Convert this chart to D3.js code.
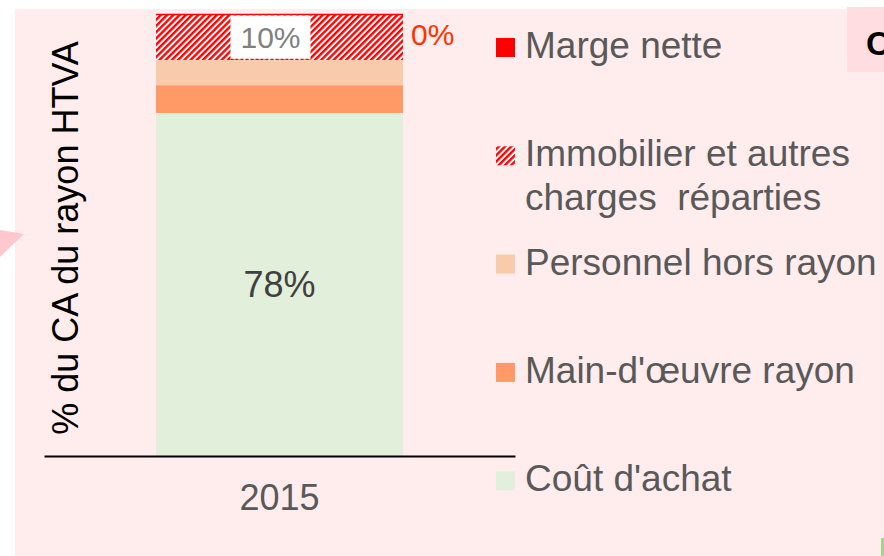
<!DOCTYPE html>
<html>
<head>
<meta charset="utf-8">
<script src="https://cdn.jsdelivr.net/npm/d3@7"></script>
<style>
  html, body { margin: 0; padding: 0; background: #fff; }
  svg { display: block; font-family: "Liberation Sans", Arial, sans-serif; }
</style>
</head>
<body>
<div id="canvas"></div>
<script>
// data
var years = ['2015'];
var seriesNames = ['Coût d\'achat', 'Main-d\'œuvre rayon', 'Personnel hors rayon',
                   'Immobilier et autres charges  réparties', 'Marge nette'];
var seriesValues = [0.776, 0.063, 0.057, 0.104, 0.0];
var seriesColors = ['#E2EFDA', '#FF9966', '#F8CBAD', 'url(#hatch)', '#FF0000'];
var legendLines = [['Coût d\'achat'], ['Main-d\'œuvre rayon'], ['Personnel hors rayon'],
                   ['Immobilier et autres', 'charges  réparties'], ['Marge nette']];
var yTitle = '% du CA du rayon HTVA';

var W = 884, H = 556;
var m = {t:14, l:44, r:369, b:100};

var svg = d3.select('#canvas').append('svg')
    .attr('width', W).attr('height', H);

var defs = svg.append('defs');
var pat = defs.append('pattern').attr('id', 'hatch')
    .attr('patternUnits', 'userSpaceOnUse')
    .attr('width', 4.4).attr('height', 4.4)
    .attr('patternTransform', 'rotate(45)');
pat.append('rect').attr('width', 4.4).attr('height', 4.4).attr('fill', '#fff');
pat.append('rect').attr('width', 2.4).attr('height', 4.4).attr('fill', '#FF0000');

// slide background bits
svg.append('rect').attr('x', 15).attr('y', 9).attr('width', W - 15).attr('height', H - 9)
    .attr('fill', '#FFECEC');
svg.append('path').attr('d', 'M0,230L24,234L0,257Z').attr('fill', '#FFC8CE');
svg.append('rect').attr('x', 847).attr('y', 7).attr('width', 40).attr('height', 65)
    .attr('fill', '#FFDDE0');
svg.append('text').attr('x', 866).attr('y', 55).text('C')
    .style('font-size', '34px').style('font-weight', 'bold').attr('fill', '#000');
svg.append('rect').attr('x', 881).attr('y', 538).attr('width', 3).attr('height', 18)
    .attr('fill', '#A9D18E');

var x = d3.scaleBand().domain(years).range([m.l, W - m.r])
    .paddingInner(0).paddingOuter(0.4534);
var y = d3.scaleLinear().domain([0, 1]).range([H - m.b, m.t]);

// stack
var row = {year: '2015'};
seriesNames.forEach(function(s, i){ row[s] = seriesValues[i]; });
var stacked = d3.stack().keys(seriesNames)([row]);

var plot = svg.append('g').attr('class', 'plot');
plot.selectAll('.seg')
    .data(stacked)
    .enter()
    .append('rect').attr('class', 'seg')
    .attr('x', function(d){ return x(d[0].data.year); })
    .attr('width', x.bandwidth())
    .attr('y', function(d){ return y(d[0][1]); })
    .attr('height', function(d){ return y(d[0][0]) - y(d[0][1]); })
    .attr('fill', function(d, i){ return seriesColors[i]; });

var fmt = function(v){ return Math.round(v * 100) + '%'; };
var cx = x('2015') + x.bandwidth() / 2;

// top red edge
var immo = stacked[3][0];
plot.append('line')
    .attr('x1', x('2015')).attr('x2', x('2015') + x.bandwidth())
    .attr('y1', y(immo[1]) + 0.5).attr('y2', y(immo[1]) + 0.5)
    .attr('stroke', '#FF0000').attr('stroke-width', 1.5);

// 78% label
var base = stacked[0][0];
plot.append('text')
    .attr('x', cx).attr('y', (y(base[0]) + y(base[1])) / 2)
    .attr('text-anchor', 'middle').attr('dy', '0.36em')
    .style('font-size', '36px').attr('fill', '#404040')
    .text(fmt(seriesValues[0]));

// 10% label in white box
var lx = cx - 9;
var lbl = plot.append('text')
    .attr('x', lx).attr('y', (y(immo[0]) + y(immo[1])) / 2)
    .attr('text-anchor', 'middle').attr('dy', '0.36em')
    .style('font-size', '30px').attr('fill', '#808080')
    .text(fmt(seriesValues[3]));
var bb = lbl.node().getBBox();
plot.insert('rect', 'text')
    .attr('x', bb.x - 10).attr('width', bb.width + 20)
    .attr('y', y(immo[1]) + 1.5).attr('height', y(immo[0]) - y(immo[1]) - 2)
    .attr('fill', '#fff');
plot.append('line')
    .attr('x1', bb.x - 10).attr('x2', bb.x + bb.width + 10)
    .attr('y1', y(immo[0]) - 0.5).attr('y2', y(immo[0]) - 0.5)
    .attr('stroke', '#FF0000').attr('stroke-width', 1.2)
    .attr('stroke-dasharray', '3,2');

// 0% label (marge nette)
plot.append('text')
    .attr('x', x('2015') + x.bandwidth() + 8).attr('y', y(immo[1]) + 31)
    .style('font-size', '30px').attr('fill', '#FF3300')
    .text(fmt(seriesValues[4]));

// x axis
var xAxis = svg.append('g').attr('class', 'x axis')
    .attr('transform', 'translate(0,' + (H - m.b) + ')')
    .call(d3.axisBottom(x).tickSize(0).tickPadding(28));
xAxis.select('.domain').attr('stroke', '#000').attr('stroke-width', 2);
xAxis.selectAll('text').style('font-size', '36px').attr('fill', '#595959')
    .style('font-family', '"Liberation Sans", Arial, sans-serif');

// y title
svg.append('text')
    .attr('transform', 'translate(78,' + 238 + ') rotate(-90)')
    .attr('text-anchor', 'middle')
    .style('font-size', '36px').attr('fill', '#000')
    .text(yTitle);

// legend, top item = last series
var legend = svg.append('g').attr('class', 'legend');
var order = [4, 3, 2, 1, 0];
var items = legend.selectAll('.item')
    .data(order)
    .enter()
    .append('g').attr('class', 'item')
    .attr('transform', function(d, i){ return 'translate(496,' + (58 + i * 108.3) + ')'; });
items.append('rect')
    .attr('y', -20).attr('width', 19).attr('height', 19)
    .attr('fill', function(d){ return seriesColors[d]; });
items.each(function(d){
    var t = d3.select(this).append('text').attr('x', 29)
        .style('font-size', '37px').style('white-space', 'pre').attr('fill', '#595959');
    legendLines[d].forEach(function(l, j){
        t.append('tspan').attr('x', 29).attr('y', j * 44).text(l);
    });
});
</script>
</body>
</html>
